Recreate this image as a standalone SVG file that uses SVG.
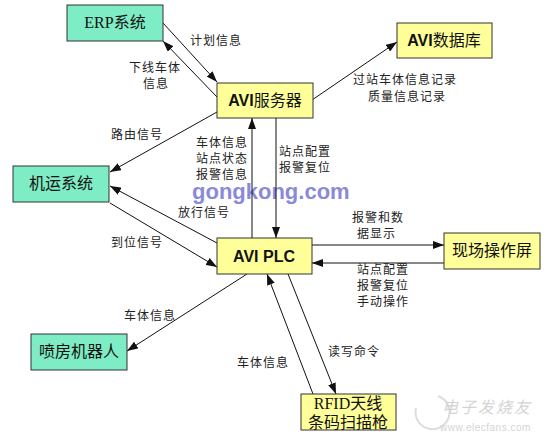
<svg xmlns="http://www.w3.org/2000/svg" width="547" height="445" viewBox="0 0 547 445">
<style>
.g{fill:#7EECC4;stroke:#333;stroke-width:1}
.y{fill:#FFFF99;stroke:#333;stroke-width:1}
.nt{font-family:"Liberation Serif","Noto Sans CJK SC",serif;font-size:16px;fill:#111;text-anchor:middle}
.b{font-family:"Liberation Sans",Arial,sans-serif;font-weight:bold}
.lb{font-family:"Noto Sans CJK SC",sans-serif;font-size:12px;fill:#222;letter-spacing:1px}
.c line{stroke:#111;stroke-width:1;marker-end:url(#ah)}
</style>
<defs>
<marker id="ah" markerUnits="userSpaceOnUse" markerWidth="11" markerHeight="8" refX="11" refY="4" orient="auto">
<path d="M0,0 L11,4 L0,8 z" fill="#111"/>
</marker>
</defs>
<rect width="547" height="445" fill="#fff"/>
<text x="192" y="199" font-family="Liberation Sans,Arial,sans-serif" font-weight="bold" font-size="22" fill="#8A8AD8">gongkong.com</text>
<g id="watermark">
<path d="M416,408 a17,17 0 1 0 22,-12" fill="none" stroke="#ddd" stroke-width="2"/>
<text x="442" y="413" font-family="Noto Sans CJK SC,sans-serif" font-size="16" font-style="italic" fill="#d4d4d4" letter-spacing="2">电子发烧友</text>
<text x="440" y="431" font-family="Liberation Sans,sans-serif" font-size="10" fill="#d4d4d4" letter-spacing="0.5">www.elecfans.com</text>
</g>
<g class="c" id="connectors">
<line x1="163" y1="23" x2="217" y2="82"/>
<line x1="217" y1="97" x2="163" y2="41"/>
<line x1="217" y1="112" x2="110" y2="172"/>
<line x1="312" y1="100" x2="397" y2="42"/>
<line x1="252" y1="238" x2="252" y2="118"/>
<line x1="276" y1="118" x2="276" y2="238"/>
<line x1="217" y1="243" x2="110" y2="186"/>
<line x1="110" y1="203" x2="217" y2="267"/>
<line x1="312" y1="245" x2="444" y2="245"/>
<line x1="444" y1="263" x2="312" y2="263"/>
<line x1="247" y1="274" x2="127" y2="351"/>
<line x1="313" y1="394" x2="267" y2="274"/>
<line x1="288" y1="274" x2="336" y2="394"/>
</g>
<g id="labels">
<text class="lb" x="190" y="45">计划信息</text>
<text class="lb" x="129" y="72">下线车体</text>
<text class="lb" x="143" y="88">信息</text>
<text class="lb" x="353" y="84">过站车体信息记录</text>
<text class="lb" x="368" y="101">质量信息记录</text>
<text class="lb" x="111" y="139">路由信号</text>
<text class="lb" x="196" y="147">车体信息</text>
<text class="lb" x="196" y="163">站点状态</text>
<text class="lb" x="196" y="179">报警信息</text>
<text class="lb" x="279" y="156">站点配置</text>
<text class="lb" x="279" y="172">报警复位</text>
<text class="lb" x="178" y="217">放行信号</text>
<text class="lb" x="111" y="247">到位信号</text>
<text class="lb" x="352" y="222">报警和数</text>
<text class="lb" x="357" y="238">据显示</text>
<text class="lb" x="357" y="274">站点配置</text>
<text class="lb" x="357" y="290">报警复位</text>
<text class="lb" x="357" y="306">手动操作</text>
<text class="lb" x="124" y="320">车体信息</text>
<text class="lb" x="237" y="367">车体信息</text>
<text class="lb" x="328" y="356">读写命令</text>
</g>
<g id="erp"><rect class="g" x="67" y="5" width="96" height="36"/><text class="nt" x="115" y="28">ERP系统</text></g>
<g id="avi-server"><rect class="y" x="217" y="83" width="96" height="35"/><text class="nt" x="265" y="106"><tspan class="b">AVI</tspan>服务器</text></g>
<g id="avi-db"><rect class="y" x="397" y="23" width="95" height="35"/><text class="nt" x="444" y="46"><tspan class="b">AVI</tspan>数据库</text></g>
<g id="conveyor"><rect class="g" x="13" y="166" width="96" height="36"/><text class="nt" x="61" y="189">机运系统</text></g>
<g id="avi-plc"><rect class="y" x="217" y="238" width="95" height="36"/><text class="nt b" x="264" y="262" font-size="18">AVI PLC</text></g>
<g id="screen"><rect class="y" x="444" y="233" width="96" height="36"/><text class="nt" x="492" y="256">现场操作屏</text></g>
<g id="robot"><rect class="g" x="31" y="334" width="96" height="36"/><text class="nt" x="79" y="357">喷房机器人</text></g>
<g id="rfid"><rect class="y" x="301" y="394" width="95" height="36"/><text class="nt" x="348" y="409">RFID天线</text><text class="nt" x="348" y="428">条码扫描枪</text></g>
</svg>
